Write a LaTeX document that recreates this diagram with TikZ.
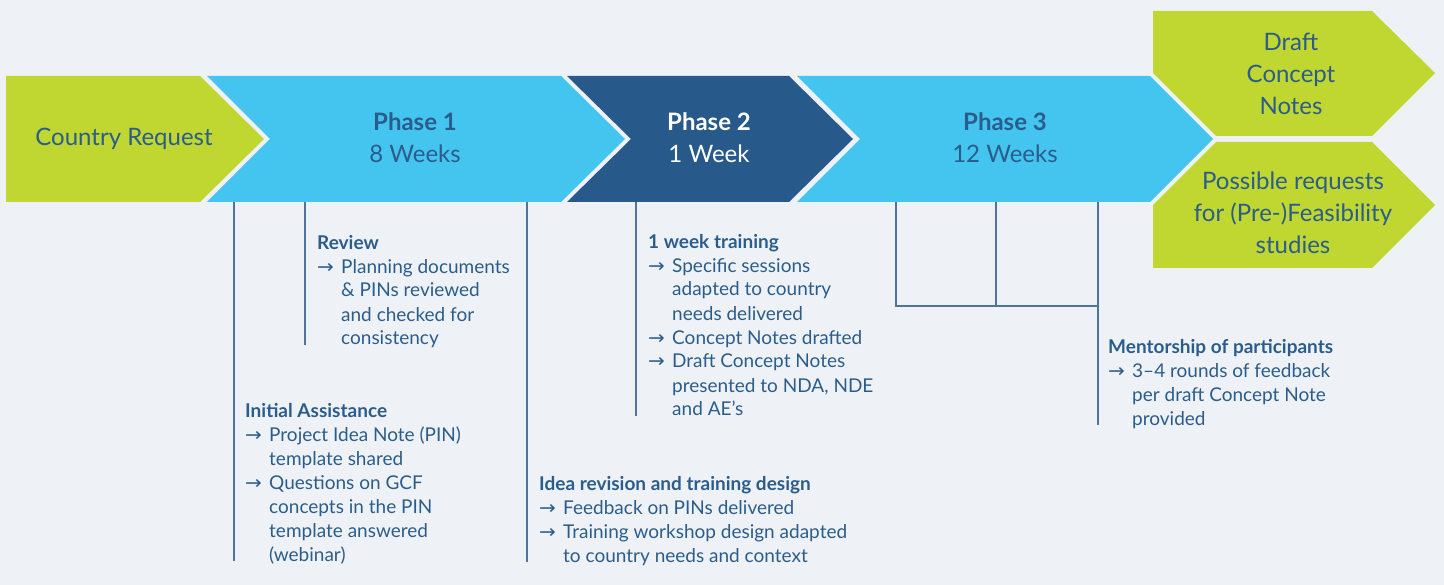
\documentclass[tikz,border=0pt]{standalone}
\usepackage{fontspec}
\setmainfont{Lato}
\newfontfamily\symf{DejaVu Sans}
\usepackage{amsmath}
\usetikzlibrary{positioning}
\definecolor{bgcol}{HTML}{EEF2F6}
\definecolor{lblue}{HTML}{44C5EF}
\definecolor{dblue}{HTML}{27598A}
\definecolor{lgreen}{HTML}{BFD730}
\definecolor{txtblue}{HTML}{2B5D8C}
\definecolor{linecol}{HTML}{4F74A0}
\newcommand{\arw}{\makebox[24pt][l]{\scalebox{1.05}[1]{\symf →}}}
\newcommand{\ind}{\hspace*{24pt}}

\begin{document}
\begin{tikzpicture}[x=1pt,y=-1pt,
    bandtxt/.style={align=center, text=txtblue, font=\fontsize{24}{32}\selectfont},
    note/.style={anchor=base west, inner sep=0pt, align=left, text=txtblue, font=\fontsize{19}{24}\selectfont},
    tick/.style={draw=linecol, line width=1.5pt}]
\fill[bgcol] (0,0) rectangle (1444,585);
\useasboundingbox (0,0) rectangle (1444,585);

% band
\fill[lgreen] (6,76) -- (200,76) -- (264,139) -- (200,202) -- (6,202) -- cycle;
\fill[lblue] (207,76) -- (561,76) -- (625,139) -- (561,202) -- (207,202) -- (270,139) -- cycle;
\fill[dblue] (567,76) -- (789,76) -- (853,139) -- (789,202) -- (567,202) -- (631,139) -- cycle;
\fill[lblue] (797,76) -- (1150,76) -- (1213,139) -- (1150,202) -- (797,202) -- (860,139) -- cycle;
\fill[lgreen] (1153,11) -- (1372,11) -- (1435,73) -- (1372,136) -- (1216,136) -- (1153,73) -- cycle;
\fill[lgreen] (1216,142) -- (1372,142) -- (1435,205) -- (1372,268) -- (1153,268) -- (1153,205) -- cycle;

\node[bandtxt] (cr) at (124,139) {Country Request};
\node[bandtxt] (ph1) at (415,138) {\textbf{Phase 1}\\8 Weeks};
\node[bandtxt, text=white] (ph2) at (709,138) {\textbf{Phase 2}\\1 Week};
\node[bandtxt] (ph3) at (1005,138) {\textbf{Phase 3}\\12 Weeks};
\node[bandtxt] (draft) at (1291,74) {Draft\\Concept\\Notes};
\node[bandtxt] (feas) at (1293,213) {Possible requests\\for (Pre-)Feasibility\\studies};

% notes (placed by the baseline of their last line)
\node[note] (review) at (317,345) {\textbf{Review}\\
  \arw Planning documents\\ \ind\& PINs reviewed\\ \ind and checked for\\ \ind consistency};
\node[note] (init) at (245,561) {\textbf{Initial Assistance}\\
  \arw Project Idea Note (PIN)\\ \ind template shared\\
  \arw Questions on GCF\\ \ind concepts in the PIN\\ \ind template answered\\ \ind (webinar)};
\node[note] (idea) at (539,562) {\textbf{Idea revision and training design}\\
  \arw Feedback on PINs delivered\\
  \arw Training workshop design adapted\\ \ind to country needs and context};
\node[note] (train) at (648,416) {\textbf{1 week training}\\
  \arw Specific sessions\\ \ind adapted to country\\ \ind needs delivered\\
  \arw Concept Notes drafted\\
  \arw Draft Concept Notes\\ \ind presented to NDA, NDE\\ \ind and AE’s};
\node[note] (mentor) at (1108,425) {\textbf{Mentorship of participants}\\
  \arw 3–4 rounds of feedback\\ \ind per draft Concept Note\\ \ind provided};

% connectors
\coordinate (t1) at (234,202);
\coordinate (t2) at (305,202);
\coordinate (t3) at (527,202);
\coordinate (t4) at (636,202);
\coordinate (t5) at (896,202);
\coordinate (t6) at (996,202);
\coordinate (t7) at (1098,202);
\coordinate (j5) at (896,306);
\coordinate (j6) at (996,306);
\coordinate (j7) at (1098,306);
\draw[tick] (t1) -- (t1 |- init.base);
\draw[tick] (t2) -- (t2 |- review.base);
\draw[tick] (t3) -- (t3 |- idea.base);
\draw[tick] (t4) -- (t4 |- train.base);
\draw[tick] (t5) -- (j5) -- (j7);
\draw[tick] (t6) -- (j6);
\draw[tick] (t7) -- (t7 |- mentor.base);
\end{tikzpicture}
\end{document}
